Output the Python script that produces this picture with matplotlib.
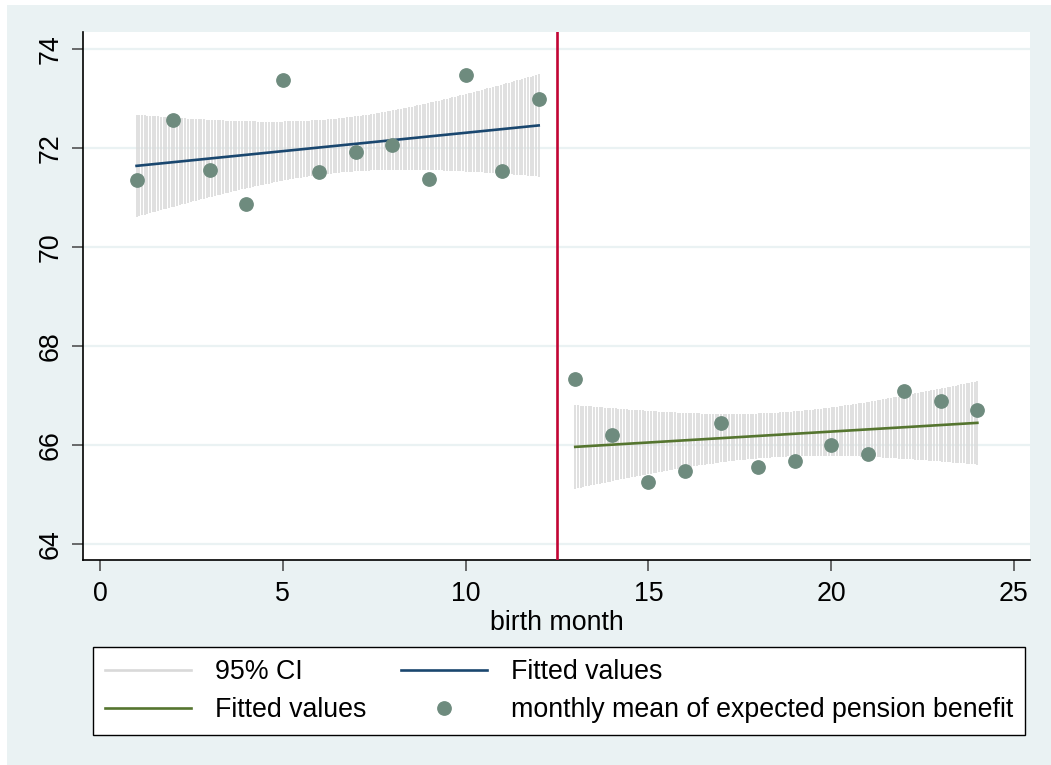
import numpy as np
import matplotlib.pyplot as plt
from matplotlib.patches import Rectangle
from matplotlib.lines import Line2D

plt.rcParams['font.family'] = ['Liberation Sans', 'DejaVu Sans']

# monthly means
month = np.arange(1, 25)
benefit = np.array([71.35, 72.57, 71.56, 70.87, 73.37, 71.52, 71.93, 72.07,
                    71.38, 73.47, 71.53, 73.00,
                    67.34, 66.21, 65.26, 65.49, 66.45, 65.57, 65.69, 66.01,
                    65.82, 67.10, 66.90, 66.71])
cutoff = 12.5
t_crit = 2.228  # t(0.975, 10 df)

bg = '#eaf2f3'
ci_col = '#d9d9d9'
blue = '#1a476f'
green = '#55752f'
dot = '#6e8b7e'
red = '#c10534'


def fit_ci(x, y, n=150):
    # linear fit with 95% CI of the mean prediction (like lfitci)
    b, a = np.polyfit(x, y, 1)
    res = y - (a + b * x)
    s = np.sqrt(np.sum(res ** 2) / (len(x) - 2))
    sxx = np.sum((x - x.mean()) ** 2)
    xs = np.linspace(x.min(), x.max(), n)
    yhat = a + b * xs
    se = s * np.sqrt(1 / len(x) + (xs - x.mean()) ** 2 / sxx)
    return xs, yhat, yhat - t_crit * se, yhat + t_crit * se


fig = plt.figure(figsize=(10.51, 7.65), dpi=100)
fig.patches.append(Rectangle((7 / 1051, 0), 1, 1 - 5 / 765, transform=fig.transFigure,
                             facecolor=bg, edgecolor='none', zorder=-10))
ax = fig.add_axes([83.3 / 1051, 1 - 560.3 / 765, (1030 - 83.3) / 1051, (560.3 - 32.3) / 765])

pre = month < cutoff
post = month > cutoff
xs1, yh1, lo1, hi1 = fit_ci(month[pre], benefit[pre])
xs2, yh2, lo2, hi2 = fit_ci(month[post], benefit[post])

ax.vlines(xs1, lo1, hi1, color=ci_col, lw=1.15, zorder=1)
ax.vlines(xs2, lo2, hi2, color=ci_col, lw=1.15, zorder=1)
ax.plot(xs1, yh1, color=blue, lw=1.9, zorder=3)
ax.plot(xs2, yh2, color=green, lw=1.9, zorder=3)
ax.plot(month, benefit, 'o', ms=9.6, color=dot, mec=dot, zorder=4)
ax.axvline(cutoff, color=red, lw=1.9, zorder=5)

ax.set_xlim(-0.457, 25.44)
ax.set_ylim(63.68, 74.34)
ax.set_xticks(np.arange(0, 26, 5))
ax.set_yticks(np.arange(64, 75, 2))
ax.yaxis.grid(True, color=bg, lw=1.6)
ax.set_axisbelow(True)
for sp in ['top', 'right']:
    ax.spines[sp].set_visible(False)
ax.spines['left'].set_linewidth(1.2)
ax.spines['bottom'].set_linewidth(1.2)
ax.tick_params(axis='both', labelsize=19.3, length=8, width=1.1, color='#444444')
ax.tick_params(axis='x', pad=7)
ax.tick_params(axis='y', pad=6)
for lab in ax.get_yticklabels():
    lab.set_rotation(90)
    lab.set_va('center')
ax.set_xlabel('birth month', fontsize=19.3, labelpad=2)

handles = [Line2D([], [], color=ci_col, lw=1.9),
           Line2D([], [], color=green, lw=1.9),
           Line2D([], [], color=blue, lw=1.9),
           Line2D([], [], ls='none', marker='o', ms=9.6, color=dot)]
labels = ['95% CI', 'Fitted values', 'Fitted values',
          'monthly mean of expected pension benefit']
leg = fig.legend(handles, labels, ncol=2, loc='upper left',
                 bbox_to_anchor=(93 / 1051, 1 - 647 / 765), fontsize=19.3,
                 frameon=True, fancybox=False, edgecolor='black', framealpha=1,
                 handlelength=3.2, handletextpad=0.9, columnspacing=1.3,
                 labelspacing=0.45, borderpad=0.45, borderaxespad=0)
leg.get_frame().set_linewidth(1.0)

fig.savefig('out.png', dpi=100, facecolor='white')
